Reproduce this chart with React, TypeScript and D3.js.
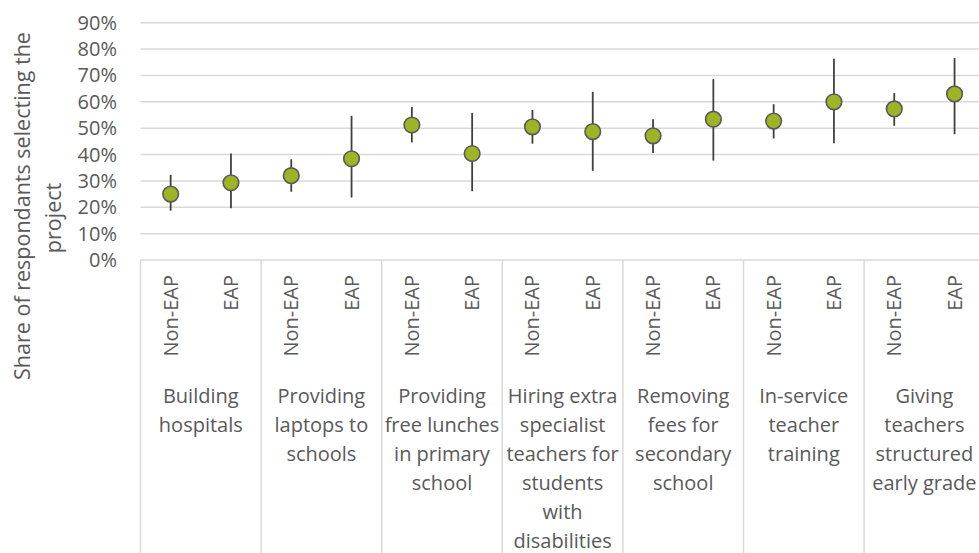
import React from "react";
import * as d3 from "d3";

// Survey share by project, split by respondent group, with confidence ranges
const projects: string[][] = [
  ["Building", "hospitals"],
  ["Providing", "laptops to", "schools"],
  ["Providing", "free lunches", "in primary", "school"],
  ["Hiring extra", "specialist", "teachers for", "students", "with", "disabilities"],
  ["Removing", "fees for", "secondary", "school"],
  ["In-service", "teacher", "training"],
  ["Giving", "teachers", "structured", "early grade"],
];
const groups = ["Non-EAP", "EAP"];

// Point estimate per project: [Non-EAP, EAP]
const shareValues = [
  [0.25, 0.293],
  [0.32, 0.384],
  [0.512, 0.404],
  [0.505, 0.487],
  [0.471, 0.534],
  [0.527, 0.6],
  [0.573, 0.63],
];
const lowerBounds = [
  [0.187, 0.196],
  [0.259, 0.237],
  [0.446, 0.261],
  [0.441, 0.338],
  [0.406, 0.377],
  [0.461, 0.443],
  [0.509, 0.477],
];
const upperBounds = [
  [0.323, 0.404],
  [0.382, 0.547],
  [0.58, 0.558],
  [0.569, 0.638],
  [0.534, 0.686],
  [0.591, 0.763],
  [0.633, 0.766],
];
const yTicks = [0, 0.1, 0.2, 0.3, 0.4, 0.5, 0.6, 0.7, 0.8, 0.9];

const W = 979;
const H = 553;
const FONT = "'Open Sans', sans-serif";
const TEXT = "#595959";
const GRID = "#D9D9D9";

export default function App() {
  const left = 140.5;
  const catWidth = 120.6;
  const top = 22.7;
  const bottom = 260;

  const slots = projects.flatMap((_, i) => groups.map((g) => `${i}-${g}`));
  const x = d3
    .scaleBand<string>()
    .domain(slots)
    .range([left, left + catWidth * projects.length])
    .padding(0);
  const y = d3.scaleLinear().domain([0, 0.9]).range([bottom, top]);
  const fmt = d3.format(".0%");

  const points = projects.flatMap((_, i) =>
    groups.map((g, j) => ({
      key: `${i}-${g}`,
      group: g,
      v: shareValues[i][j],
      lo: lowerBounds[i][j],
      hi: upperBounds[i][j],
    }))
  );

  return (
    <svg
      width={W}
      height={H}
      style={{ position: "absolute", left: 0, top: 0, background: "#fff" }}
      fontFamily={FONT}
    >
      {/* horizontal gridlines */}
      {yTicks.map((t) => (
        <line
          key={t}
          x1={left}
          x2={W}
          y1={y(t)}
          y2={y(t)}
          stroke={GRID}
          strokeWidth={1.5}
        />
      ))}
      {/* tick labels */}
      {yTicks.map((t) => (
        <text
          key={`l${t}`}
          x={117}
          y={y(t)}
          dy="0.35em"
          textAnchor="end"
          fontSize={20}
          fill={TEXT}
        >
          {fmt(t)}
        </text>
      ))}

      {/* axis title */}
      <text
        transform="translate(22,206) rotate(-90)"
        textAnchor="middle"
        dy="0.35em"
        fontSize={21.5}
        fill={TEXT}
      >
        Share of respondants selecting the
      </text>
      <text
        transform="translate(53,218) rotate(-90)"
        textAnchor="middle"
        dy="0.35em"
        fontSize={21.5}
        fill={TEXT}
      >
        project
      </text>

      {/* category group dividers */}
      {d3.range(projects.length + 1).map((i) => (
        <line
          key={`d${i}`}
          x1={left + i * catWidth}
          x2={left + i * catWidth}
          y1={bottom}
          y2={H}
          stroke={GRID}
          strokeWidth={1.5}
        />
      ))}

      {/* group labels */}
      {points.map((p) => {
        const cx = (x(p.key) ?? 0) + x.bandwidth() / 2;
        return (
          <text
            key={`g${p.key}`}
            transform={`translate(${cx},275) rotate(-90)`}
            textAnchor="end"
            dy="0.35em"
            fontSize={20}
            fill={TEXT}
          >
            {p.group}
          </text>
        );
      })}

      {/* project labels */}
      {projects.map((lines, i) => {
        const cx = left + (i + 0.5) * catWidth;
        return (
          <text key={`p${i}`} textAnchor="middle" fontSize={20} fill={TEXT}>
            {lines.map((ln, k) => (
              <tspan key={k} x={cx} y={402.5 + k * 29}>
                {ln}
              </tspan>
            ))}
          </text>
        );
      })}

      {/* error bars and markers */}
      {points.map((p) => {
        const cx = (x(p.key) ?? 0) + x.bandwidth() / 2;
        return (
          <g key={`m${p.key}`}>
            <line
              x1={cx}
              x2={cx}
              y1={y(p.lo)}
              y2={y(p.hi)}
              stroke="#404040"
              strokeWidth={1.8}
            />
            <circle
              cx={cx}
              cy={y(p.v)}
              r={7.8}
              fill="#9FB424"
              stroke="#595959"
              strokeWidth={1.6}
            />
          </g>
        );
      })}
    </svg>
  );
}
